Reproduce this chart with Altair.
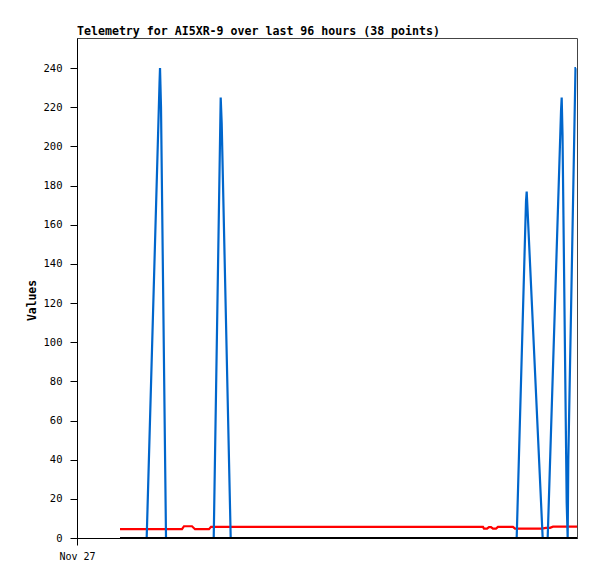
import altair as alt
import pandas as pd

# Hours since the left edge of the 96-hour window (Nov 27)
blue_hours = [8.26, 13.38, 15.84, 15.94, 16.13, 17.09, 26.25, 27.59, 27.78, 29.51,
              84.42, 86.21, 86.34, 86.50, 89.41, 90.37, 92.93, 93.06, 93.22, 94.02,
              94.21, 94.33, 95.71, 95.81]
blue_values = [0, 0, 232, 240, 220, 0, 0, 225, 212, 0,
               0, 172, 177, 168, 0, 0, 218, 225, 206, 18,
               0, 40, 240, 240]

red_hours = [8.26, 20.16, 20.54, 22.08, 22.66, 25.34, 25.73, 77.95, 78.14, 78.72,
             79.10, 79.49, 79.87, 80.45, 80.83, 83.71, 84.10, 89.28, 90.05, 90.82,
             91.39, 96.0]
red_values = [4.5, 4.5, 6.0, 6.0, 4.5, 4.5, 5.7, 5.7, 4.8, 4.8,
              5.6, 5.6, 4.8, 4.8, 5.7, 5.7, 4.8, 4.8, 5.2, 5.2,
              5.8, 5.8]

black_hours = [8.26, 96.0]
black_values = [0, 0]

y_ticks = [0, 20, 40, 60, 80, 100, 120, 140, 160, 180, 200, 220, 240]
x_ticks = [0]
x_tick_label = "Nov 27"

MONO = "DejaVu Sans Mono"

xscale = alt.Scale(domain=[0, 96], nice=False, zero=False)
yscale = alt.Scale(domain=[0, 255.4], nice=False)

xaxis = alt.Axis(values=x_ticks, labelExpr=f"'{x_tick_label}'", title=None,
                 grid=False, tickSize=7, labelPadding=6, domainColor="black",
                 tickColor="black", labelColor="black", labelFont=MONO,
                 labelFontSize=10, labelAlign="center")
yaxis = alt.Axis(values=y_ticks, title="Values", grid=False, tickSize=7,
                 labelPadding=8, domainColor="black", tickColor="black",
                 labelColor="black", labelFont=MONO, labelFontSize=10.5,
                 titleFont=MONO, titleFontWeight="bold", titleFontSize=11.4,
                 titleColor="black", titleX=-45, titleY=262, titleAlign="center",
                 titleBaseline="middle", titleAngle=-90)

red_df = pd.DataFrame({"h": red_hours, "v": red_values})
blue_df = pd.DataFrame({"h": blue_hours, "v": blue_values})
black_df = pd.DataFrame({"h": black_hours, "v": black_values})

def layer(df, color, width):
    return alt.Chart(df).mark_line(color=color, strokeWidth=width,
                                   interpolate="linear", clip=True).encode(
        x=alt.X("h:Q", scale=xscale, axis=xaxis),
        y=alt.Y("v:Q", scale=yscale, axis=yaxis),
    )

chart = alt.layer(
    layer(red_df, "#ff0000", 2.2),
    layer(blue_df, "#0066cc", 2.2),
    layer(black_df, "#000000", 2.2),
).properties(
    width=500,
    height=500,
    autosize=alt.AutoSizeParams(type="none"),
    padding={"left": 69, "top": 30, "right": 12, "bottom": 33},
    title=alt.TitleParams(
        "Telemetry for AI5XR-9 over last 96 hours (38 points)",
        anchor="start", frame="group", font=MONO, fontWeight="bold",
        fontSize=11.6, color="black", offset=0,
    ),
    background="white",
).configure_view(stroke="#444444", strokeWidth=1)

chart.save("out.html", embed_options={"renderer": "svg", "actions": False})
